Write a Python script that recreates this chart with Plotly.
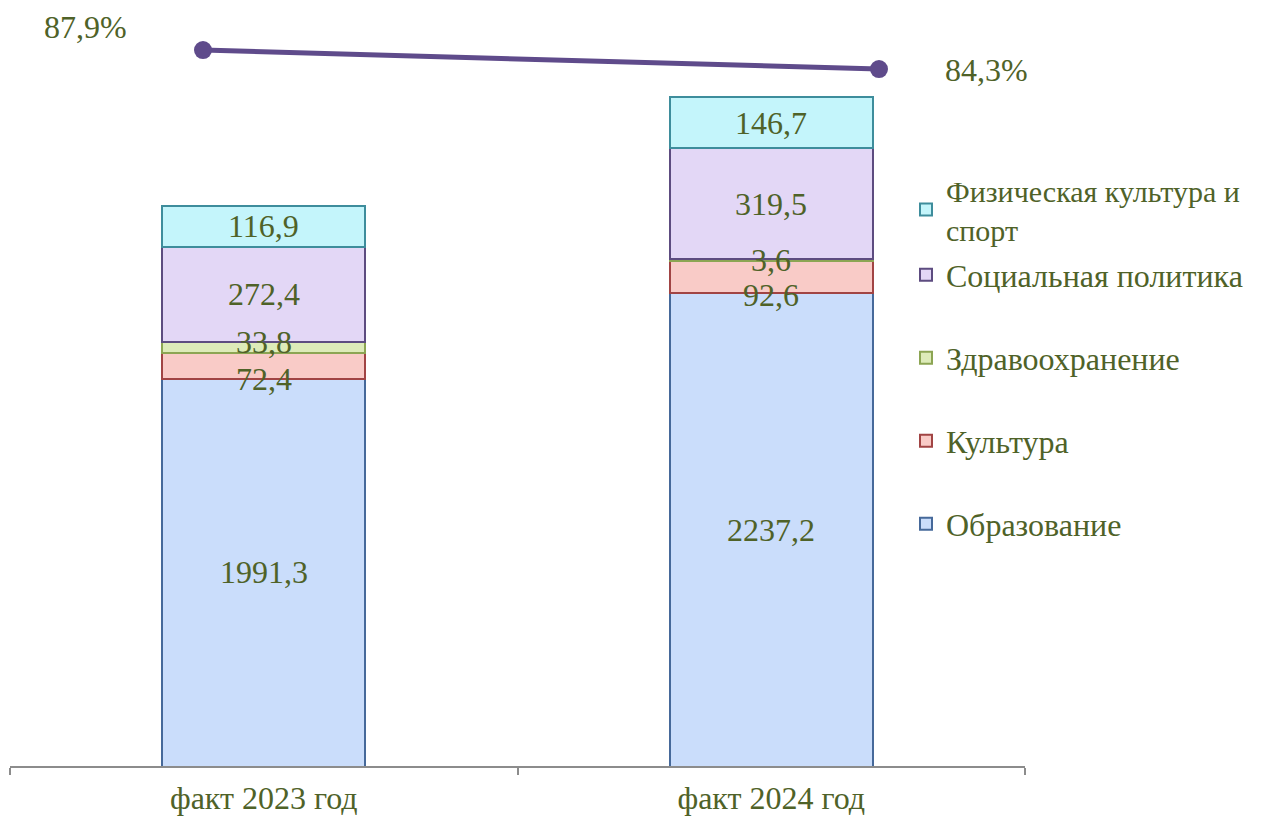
import plotly.graph_objects as go

categories = ["факт 2023 год", "факт 2024 год"]
series_names = ["Образование", "Культура", "Здравоохранение", "Социальная политика",
                "Физическая культура и<br>спорт"]
obrazovanie = [1991.3, 2237.2]
kultura = [72.4, 92.6]
zdravoohranenie = [33.8, 3.6]
social = [272.4, 319.5]
sport = [116.9, 146.7]
share_pct = [87.9, 84.3]
share_labels = ["87,9%", "84,3%"]

series_values = [obrazovanie, kultura, zdravoohranenie, social, sport]
fills = ["#CADDFB", "#F9CBC7", "#DDEBB9", "#E3D7F6", "#C4F5FB"]
borders = ["#46699A", "#A14444", "#8CA553", "#5D4C80", "#3E8D9C"]

TXT = "#4F6228"
FONT = "Liberation Serif"
FS = 32

# the page body adds an 8px offset, so the figure is 8px smaller than the window
OFF = 8
W, H = 1262 - OFF, 816 - OFF
ML, MR, MT, MB = 10 - OFF, 237, 20 - OFF, 50
PW, PH = W - ML - MR, H - MT - MB
Y_MIN, Y_MAX = 880, 3020.6

fig = go.Figure()

for i, (name, vals) in enumerate(zip(series_names, series_values)):
    lg = "legend" if i == 0 else f"legend{i+1}"
    fig.add_trace(go.Bar(
        x=categories, y=vals, name=name,
        marker=dict(color=fills[i], line=dict(color=borders[i], width=2)),
        width=0.4, legend=lg, hoverinfo="skip",
    ))

fig.add_trace(go.Scatter(
    x=categories, y=share_pct, xaxis="x2", yaxis="y2",
    mode="lines+markers", line=dict(color="#5F4B8B", width=5),
    marker=dict(size=18, color="#5F4B8B"), showlegend=False, hoverinfo="skip",
))

annotations = []
nudges = {(1, 0): -13, (2, 0): 6, (1, 1): -18}
for ci, cat in enumerate(categories):
    base = 0.0
    for si, vals in enumerate(series_values):
        v = vals[ci]
        lo = max(base, Y_MIN)
        base += v
        center = (lo + base) / 2
        annotations.append(dict(
            x=cat, y=center, xref="x", yref="y", showarrow=False,
            text=f"{v:.1f}".replace(".", ","),
            font=dict(family=FONT, size=FS, color=TXT),
            yshift=nudges.get((si, ci), 0),
        ))

shifts = [(-118, 23), (108, -1)]
for cat, v, lab, (dx, dy) in zip(categories, share_pct, share_labels, shifts):
    annotations.append(dict(
        x=cat, y=v, xref="x2", yref="y2", showarrow=False, text=lab,
        font=dict(family=FONT, size=FS, color=TXT), xshift=dx, yshift=dy,
    ))

# legend placement (window pixel rows of each item in the original)
legend_rows = [526, 443, 360, 277, 193]
layout_legends = {}
for i, py in enumerate(legend_rows):
    key = "legend" if i == 0 else f"legend{i+1}"
    if i == 4:
        pyf, ya, fs = py - OFF - 29, "top", 30
    else:
        pyf, ya, fs = py - OFF - 2, "middle", FS
    yv = (H - MB - pyf) / PH
    layout_legends[key] = dict(
        x=(906 - OFF - ML) / PW, xref="paper", y=yv, yref="paper",
        xanchor="left", yanchor=ya, bgcolor="rgba(0,0,0,0)",
        font=dict(family=FONT, size=fs, color=TXT),
        itemclick=False, itemdoubleclick=False,
    )

fig.update_layout(
    width=W, height=H,
    margin=dict(l=ML, r=MR, t=MT, b=MB, autoexpand=False),
    paper_bgcolor="white", plot_bgcolor="white",
    barmode="stack",
    showlegend=True,
    xaxis=dict(
        type="category", range=[-0.5, 1.5], showline=True, linecolor="#8C8C8C",
        linewidth=1.5, ticks="outside", tickson="boundaries", ticklen=7,
        tickcolor="#8C8C8C", tickwidth=1.5, showgrid=False, automargin=False,
        ticklabelstandoff=3,
        tickfont=dict(family=FONT, size=FS, color=TXT),
    ),
    xaxis2=dict(
        type="category", overlaying="x", range=[-0.2855, 1.216], visible=False,
    ),
    yaxis=dict(range=[Y_MIN, Y_MAX], visible=False, showgrid=False, automargin=False),
    yaxis2=dict(range=[-47.7, 93.6], overlaying="y", visible=False, showgrid=False),
    annotations=annotations,
    **layout_legends,
)

fig.write_html("out.html")
